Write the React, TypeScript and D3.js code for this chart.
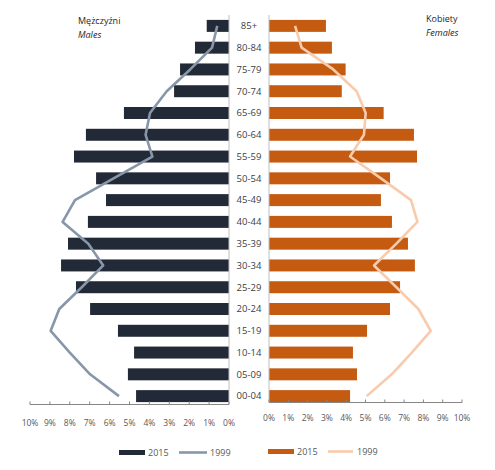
import React from "react";
import * as d3 from "d3";

const categories = ["85+", "80-84", "75-79", "70-74", "65-69", "60-64", "55-59", "50-54", "45-49", "40-44", "35-39", "30-34", "25-29", "20-24", "15-19", "10-14", "05-09", "00-04"];
const males2015 = [1.12, 1.71, 2.46, 2.76, 5.28, 7.19, 7.79, 6.68, 6.18, 7.09, 8.09, 8.44, 7.69, 6.98, 5.58, 4.77, 5.08, 4.67];
const males1999 = [0.59, 0.85, 1.95, 3.13, 3.97, 4.19, 3.85, 5.8, 7.74, 8.36, 7.07, 6.32, 7.4, 8.53, 8.96, 8.0, 6.98, 5.53];
const females2015 = [2.95, 3.26, 3.97, 3.77, 5.94, 7.51, 7.67, 6.27, 5.8, 6.37, 7.2, 7.56, 6.79, 6.27, 5.08, 4.35, 4.56, 4.2];
const females1999 = [1.35, 1.69, 3.33, 4.54, 5.01, 4.92, 4.2, 5.8, 7.36, 7.69, 6.6, 5.44, 6.6, 7.74, 8.38, 7.4, 6.36, 5.06];
const tickValues = [0, 1, 2, 3, 4, 5, 6, 7, 8, 9, 10];

const MALE_BAR = "#232a37";
const MALE_LINE = "#8796a9";
const FEMALE_BAR = "#c55a11";
const FEMALE_LINE = "#f8cbad";
const FONT = "'Open Sans', 'DejaVu Sans', sans-serif";

export default function App() {
  const y = d3.scaleBand<string>().domain(categories).range([15, 407]).paddingInner(0.45).paddingOuter(0.225);
  const xL = d3.scaleLinear().domain([0, 10]).range([229, 30]);
  const xR = d3.scaleLinear().domain([0, 10]).range([269, 462]);
  const bw = y.bandwidth();
  const cy = (c: string) => (y(c) as number) + bw / 2;

  const lineL = d3.line<number>().x((d) => xL(d)).y((_, i) => cy(categories[i]));
  const lineR = d3.line<number>().x((d) => xR(d)).y((_, i) => cy(categories[i]));

  return (
    <svg width={495} height={470} style={{ position: "absolute", left: 0, top: 0, background: "#fff" }} fontFamily={FONT}>
      {categories.map((c, i) => (
        <rect key={"m" + c} x={xL(males2015[i])} y={y(c)} width={xL(0) - xL(males2015[i])} height={bw} fill={MALE_BAR} />
      ))}
      {categories.map((c, i) => (
        <rect key={"f" + c} x={xR(0)} y={y(c)} width={xR(females2015[i]) - xR(0)} height={bw} fill={FEMALE_BAR} />
      ))}
      <line x1={229} x2={229} y1={15} y2={404} stroke="#bfbfbf" strokeWidth={1} />
      <line x1={269} x2={269} y1={15} y2={402} stroke="#bfbfbf" strokeWidth={1} />
      <path d={lineL(males1999) || ""} fill="none" stroke={MALE_LINE} strokeWidth={2.6} strokeLinejoin="round" />
      <path d={lineR(females1999) || ""} fill="none" stroke={FEMALE_LINE} strokeWidth={2.6} strokeLinejoin="round" />
      {categories.map((c) => (
        <text key={"l" + c} x={249} y={cy(c)} dy="0.35em" textAnchor="middle" fontSize={9.5} fill="#404040">
          {c}
        </text>
      ))}
      <line x1={30} x2={229} y1={404.5} y2={404.5} stroke="#868686" />
      {tickValues.map((t) => (
        <g key={"lt" + t}>
          <line x1={xL(t)} x2={xL(t)} y1={401.5} y2={404.5} stroke="#868686" />
          <text x={xL(t)} y={426} textAnchor="middle" fontSize={8.5} fill="#595959">{t + "%"}</text>
        </g>
      ))}
      <line x1={269} x2={462} y1={402.5} y2={402.5} stroke="#868686" />
      {tickValues.map((t) => (
        <g key={"rt" + t}>
          <line x1={xR(t)} x2={xR(t)} y1={399.5} y2={402.5} stroke="#868686" />
          <text x={xR(t)} y={421} textAnchor="middle" fontSize={8.5} fill="#595959">{t + "%"}</text>
        </g>
      ))}
      <text x={78} y={24} fontSize={9} fill="#262626">Mężczyźni</text>
      <text x={78} y={38} fontSize={9} fontStyle="italic" fill="#262626">Males</text>
      <text x={426} y={22} fontSize={9} fill="#262626">Kobiety</text>
      <text x={426} y={36} fontSize={9} fontStyle="italic" fill="#262626">Females</text>
      <rect x={119} y={450} width={26} height={5} fill={MALE_BAR} />
      <text x={148} y={452.5} dy="0.35em" fontSize={9} fill="#595959">2015</text>
      <line x1={179} x2={207} y1={452.5} y2={452.5} stroke={MALE_LINE} strokeWidth={2.6} />
      <text x={210} y={452.5} dy="0.35em" fontSize={9} fill="#595959">1999</text>
      <rect x={268} y={449} width={26} height={5} fill={FEMALE_BAR} />
      <text x={297} y={451.5} dy="0.35em" fontSize={9} fill="#595959">2015</text>
      <line x1={328} x2={353} y1={451.5} y2={451.5} stroke={FEMALE_LINE} strokeWidth={2.6} />
      <text x={357} y={451.5} dy="0.35em" fontSize={9} fill="#595959">1999</text>
    </svg>
  );
}
